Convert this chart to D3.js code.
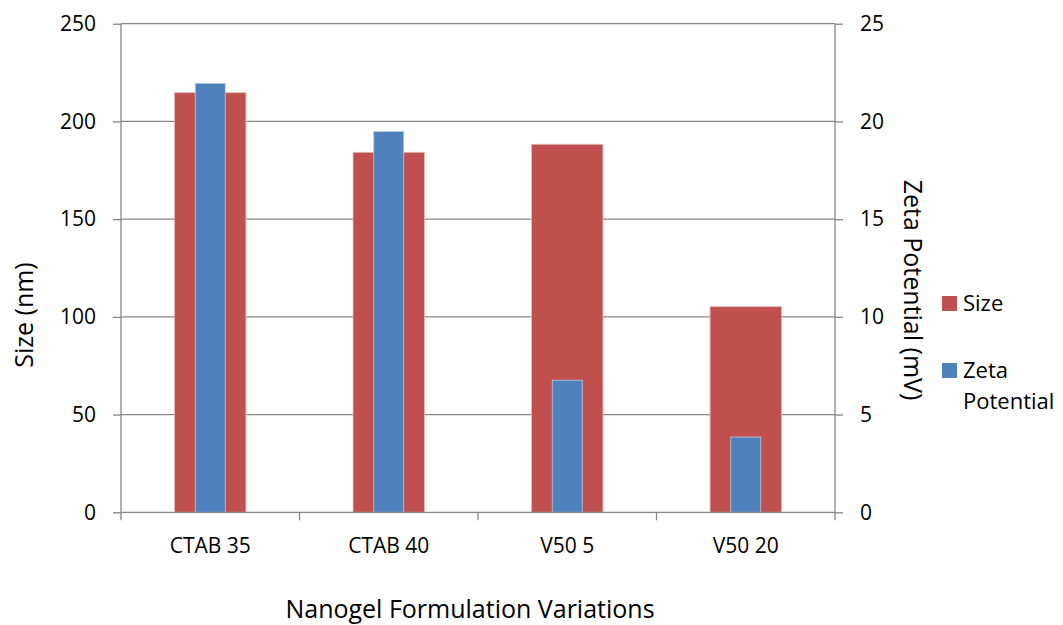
<!DOCTYPE html>
<html>
<head>
<meta charset="utf-8">
<script src="https://cdn.jsdelivr.net/npm/d3@7"></script>
<style>
  body { margin: 0; background: #fff; }
  text { font-family: "Open Sans", "DejaVu Sans", sans-serif; fill: #000; }
</style>
</head>
<body>
<div class="chart"></div>
<script>
// values
var categories = ["CTAB 35", "CTAB 40", "V50 5", "V50 20"];
var sizeValues = [214.7, 184.2, 188.3, 105.2];
var zetaValues = [21.95, 19.48, 6.76, 3.85];
var sizeTicks = [0, 50, 100, 150, 200, 250];
var zetaTicks = [0, 5, 10, 15, 20, 25];

const W = 1063, H = 625;
const plot = {left: 121, right: 835, top: 23.7, bottom: 512.3};
const gridColor = "#868686";

var svg = d3.select(".chart")
    .append("svg")
    .attr("width", W)
    .attr("height", H);

const xScale = d3.scaleBand()
    .domain(categories)
    .range([plot.left, plot.right]);

const yLeft = d3.scaleLinear()
    .domain([0, 250])
    .range([plot.bottom, plot.top]);

const yRight = d3.scaleLinear()
    .domain([0, 25])
    .range([plot.bottom, plot.top]);

// gridlines
svg.append("g")
    .selectAll("line")
    .data(sizeTicks.slice(1))
    .enter()
    .append("line")
    .attr("x1", plot.left)
    .attr("x2", plot.right)
    .attr("y1", d => yLeft(d))
    .attr("y2", d => yLeft(d))
    .attr("stroke", gridColor)
    .attr("stroke-width", 1.3);

const redW = xScale.bandwidth() * 0.4;
const blueW = xScale.bandwidth() * 0.168;

svg.append("g")
    .selectAll("rect")
    .data(categories)
    .enter()
    .append("rect")
    .attr("x", d => xScale(d) + xScale.bandwidth() / 2 - redW / 2)
    .attr("width", redW)
    .attr("y", (d, i) => yLeft(sizeValues[i]))
    .attr("height", (d, i) => yLeft(0) - yLeft(sizeValues[i]))
    .attr("fill", "#C0504D")
    .attr("stroke", "#E6B9B8")
    .attr("stroke-width", 0.8);

svg.append("g")
    .selectAll("rect")
    .data(categories)
    .enter()
    .append("rect")
    .attr("x", d => xScale(d) + xScale.bandwidth() / 2 - blueW / 2)
    .attr("width", blueW)
    .attr("y", (d, i) => yRight(zetaValues[i]))
    .attr("height", (d, i) => yRight(0) - yRight(zetaValues[i]))
    .attr("fill", "#4F81BD")
    .attr("stroke", "#B9CDE5")
    .attr("stroke-width", 0.8);

// axes
const leftAxis = d3.axisLeft(yLeft).tickValues(sizeTicks).tickSize(8).tickPadding(17);
const rightAxis = d3.axisRight(yRight).tickValues(zetaTicks).tickSize(8).tickPadding(17);
const bottomAxis = d3.axisBottom(xScale).tickSize(0).tickPadding(26);

var gl = svg.append("g")
    .attr("transform", `translate(${plot.left},0)`)
    .call(leftAxis);
var gr = svg.append("g")
    .attr("transform", `translate(${plot.right},0)`)
    .call(rightAxis);
var gb = svg.append("g")
    .attr("transform", `translate(0,${plot.bottom})`)
    .call(bottomAxis);

[gl, gr, gb].forEach(g => {
    g.select(".domain").attr("stroke", gridColor).attr("stroke-width", 1.3);
    g.selectAll(".tick line").attr("stroke", gridColor).attr("stroke-width", 1.3);
    g.selectAll(".tick text").attr("font-size", 21).attr("fill", "#000");
});
gl.select(".domain").attr("d", `M0,${plot.top}V${plot.bottom}`);
gr.select(".domain").attr("d", `M0,${plot.top}V${plot.bottom}`);
gb.select(".domain").attr("d", `M${plot.left},0H${plot.right}`);

// category boundary ticks on x axis
svg.append("g")
    .selectAll("line")
    .data(categories.concat(["end"]))
    .enter()
    .append("line")
    .attr("x1", (d, i) => i < categories.length ? xScale(d) : plot.right)
    .attr("x2", (d, i) => i < categories.length ? xScale(d) : plot.right)
    .attr("y1", plot.bottom)
    .attr("y2", plot.bottom + 8)
    .attr("stroke", gridColor)
    .attr("stroke-width", 1.3);

// axis titles
svg.append("text")
    .text("Nanogel Formulation Variations")
    .attr("x", 470)
    .attr("y", 618)
    .attr("text-anchor", "middle")
    .attr("font-size", 25);

svg.append("text")
    .text("Size (nm)")
    .attr("transform", "translate(33,315) rotate(-90)")
    .attr("text-anchor", "middle")
    .attr("font-size", 25);

svg.append("text")
    .text("Zeta Potential (mV)")
    .attr("transform", "translate(904,290) rotate(90)")
    .attr("text-anchor", "middle")
    .attr("font-size", 25);

// legend
var legend = svg.append("g").attr("transform", "translate(942,296)");
legend.append("rect").attr("x", 0).attr("y", 0).attr("width", 15).attr("height", 15).attr("fill", "#C0504D");
legend.append("text").text("Size").attr("x", 21).attr("y", 15).attr("font-size", 22);
legend.append("rect").attr("x", 0).attr("y", 67).attr("width", 15).attr("height", 15).attr("fill", "#4F81BD");
legend.append("text").text("Zeta").attr("x", 21).attr("y", 82).attr("font-size", 22);
legend.append("text").text("Potential").attr("x", 21).attr("y", 113).attr("font-size", 22);
</script>
</body>
</html>
